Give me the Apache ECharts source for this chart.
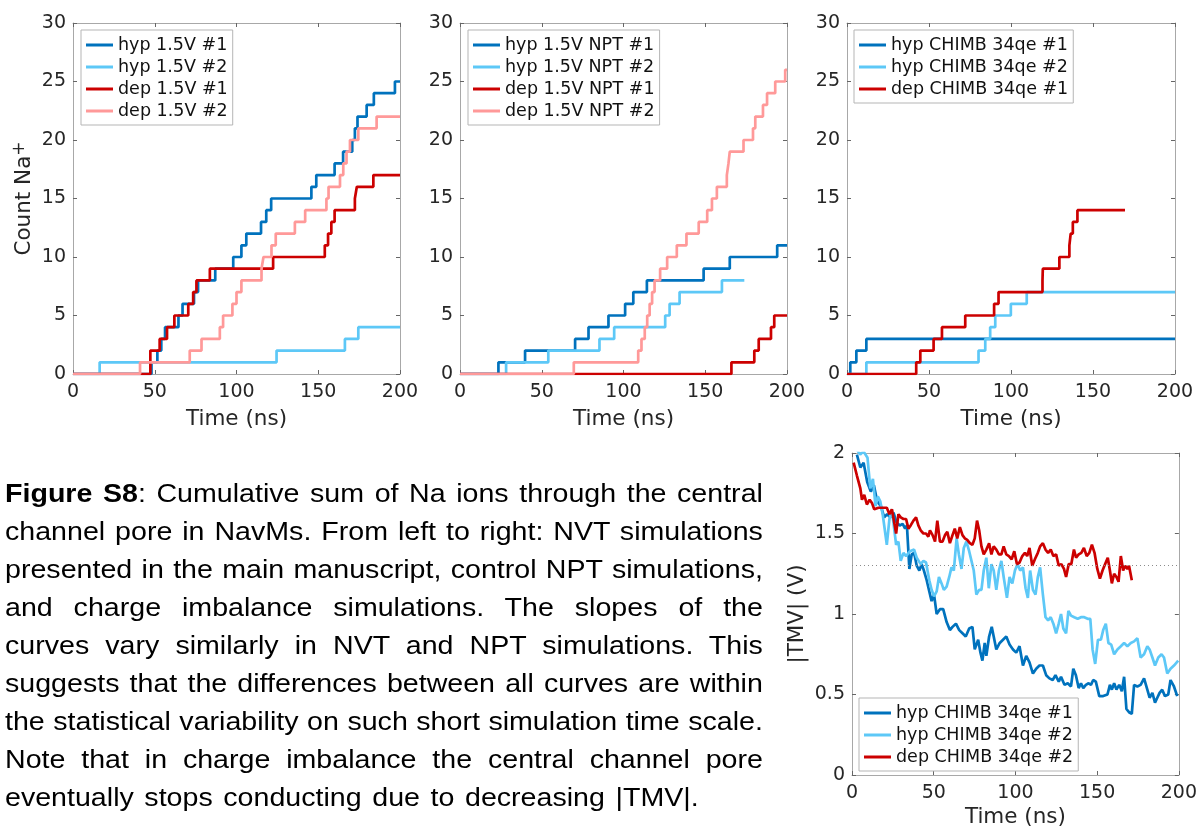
<!DOCTYPE html>
<html><head><meta charset="utf-8">
<script src="https://cdn.jsdelivr.net/npm/echarts@6/dist/echarts.min.js"></script>
<style>
html,body{margin:0;padding:0;background:#fff;}
#wrap{position:relative;width:1200px;height:829px;overflow:hidden;background:#fff;}
#chart{position:absolute;left:0;top:0;width:1200px;height:829px;}
#caption{position:absolute;left:5px;top:474px;width:689px;font-family:'Liberation Sans',Arial,sans-serif;font-size:26px;line-height:38px;color:#000;transform:scaleX(1.1);transform-origin:0 0;}
#caption div{text-align:justify;text-align-last:justify;white-space:nowrap;}
#caption div.last{text-align:left;text-align-last:left;word-spacing:2.4px;}
</style></head>
<body><div id="wrap"><div id="chart"></div>
<div id="caption">
<div><b>Figure S8</b>: Cumulative sum of Na ions through the central</div>
<div>channel pore in NavMs. From left to right: NVT simulations</div>
<div>presented in the main manuscript, control NPT simulations,</div>
<div>and charge imbalance simulations. The slopes of the</div>
<div>curves vary similarly in NVT and NPT simulations. This</div>
<div>suggests that the differences between all curves are within</div>
<div>the statistical variability on such short simulation time scale.</div>
<div>Note that in charge imbalance the central channel pore</div>
<div class="last">eventually stops conducting due to decreasing |TMV|.</div>
</div></div>
<script>
// ---- axis ranges [min, max, interval]
const timeAxis = [0, 200, 50];
const countAxis = [0, 30, 5];
const tmvAxis = [0, 2, 0.5];
const tmvRef = 1.3;

// ---- Panel 1: NVT (time ns, cumulative count)
const nvtHyp1 = [[0,0],[48,1],[51.6,2],[54,3],[56.3,4],[64.5,5],[67,6],[74,7],[76.5,8],[87,9],[98,10],[103,11],[106,12],[115,13],[118.2,14],[121.2,15],[145.8,16],[148.8,17],[160,18],[165.2,19],[170.8,20],[172.4,21],[174,22],[179.6,23],[184,24],[196.9,25],[200,25]];
const nvtHyp2 = [[0,0],[16.3,1],[124.5,2],[166.3,3],[174.5,4],[200,4]];
const nvtDep1 = [[0,0],[47.3,2],[53,3],[57.5,4],[62,5],[70.5,6],[73.5,7],[75.5,8],[83.7,9],[122.4,10],[154,11],[156,12],[158,13],[160,14],[172.4,15],[173.6,16],[183.7,17],[200,17]];
const nvtDep2 = [[0,0],[41,1],[71.4,2],[78.6,3],[89.8,4],[91.8,5],[97.5,6],[100,7],[103,8],[115.3,9],[116.5,10],[121.4,11],[124,12],[135.7,13],[142,14],[155,15],[156.3,16],[163.3,17],[165.3,18],[167.3,19],[169.4,20],[174.5,21],[185.7,22],[200,22]];

// ---- Panel 2: NPT
const nptHyp1 = [[0,0],[23.5,1],[39.8,2],[70.4,3],[78.6,4],[90.8,5],[101,6],[106,7],[114.3,8],[149,9],[165,10],[194,11],[200,11]];
const nptHyp2 = [[0,0],[28.2,1],[54,2],[85.3,3],[94.3,4],[125.5,5],[128.2,6],[134.3,7],[160.2,8],[173.9,8]];
const nptDep1 = [[0,0],[166,1],[180,2],[182.7,3],[190.2,4],[192.2,5],[200,5]];
const nptDep2 = [[0,0],[69.6,1],[109,2],[111,3],[113,4],[114.5,5],[116,6],[117.5,7],[119,8],[122.4,9],[126.7,10],[132.6,11],[138.5,12],[146,13],[151.2,14],[154.1,15],[157.1,16],[163.2,17],[164.2,18],[165,19],[173.4,20],[179.2,21],[180.6,22],[185.3,23],[187.8,24],[192.8,25],[198.9,26],[200,26]];

// ---- Panel 3: charge imbalance
const chHyp1 = [[0,0],[2,1],[5.7,2],[11.8,3],[200,3]];
const chHyp2 = [[0,0],[11.8,1],[80.2,2],[84.3,3],[87.3,4],[90.4,5],[99.9,6],[109.6,7],[200,7]];
const chDep1 = [[0,0],[42.2,1],[44.7,2],[52.8,3],[57.9,4],[72.1,5],[89.7,6],[92.4,7],[119.2,8],[119.4,9],[129.5,10],[135.6,11],[136.4,12],[137.7,13],[140.5,14],[169.5,14]];

// ---- Panel 4: |TMV| (V)
const tmvHyp1 = [[3,1.99],[5.1,1.91],[7.1,1.94],[9.3,1.82],[11.5,1.76],[13.4,1.8],[15.4,1.7],[17.7,1.67],[19.7,1.6],[21.5,1.62],[23.4,1.6],[25.4,1.63],[27.2,1.57],[29.2,1.55],[31,1.56],[32.5,1.53],[33.6,1.55],[35.1,1.28],[36.5,1.37],[38,1.38],[39.6,1.3],[41.2,1.27],[42.6,1.31],[44,1.27],[45.7,1.21],[47.3,1.14],[48.7,1.08],[50.2,1.12],[51.8,1.0],[53.8,1.03],[55.8,1.03],[57.9,0.95],[59.9,0.9],[61.5,0.92],[63.6,0.94],[65.6,0.9],[67.6,0.88],[69.6,0.86],[71.7,0.91],[73.7,0.92],[75.1,0.78],[77.2,0.84],[78.6,0.76],[79.8,0.71],[81.2,0.82],[82.2,0.74],[83.9,0.86],[85.5,0.92],[86.7,0.86],[88.3,0.78],[90.4,0.82],[92.4,0.84],[94.4,0.86],[96.4,0.81],[98.5,0.78],[100.5,0.76],[102.5,0.8],[104.6,0.68],[106.6,0.74],[108.6,0.7],[110.7,0.63],[112.7,0.66],[114.7,0.68],[116.8,0.68],[118.8,0.62],[120.8,0.6],[122.8,0.59],[124.5,0.62],[126.5,0.58],[127.9,0.61],[130,0.56],[132,0.57],[134,0.55],[135.4,0.66],[137,0.62],[138.7,0.54],[140.1,0.57],[141.5,0.54],[143.1,0.56],[144.8,0.57],[146.2,0.56],[147.6,0.59],[149.2,0.58],[151.3,0.49],[153.7,0.49],[156.3,0.5],[157.8,0.56],[159,0.53],[160.4,0.57],[161.8,0.53],[163.5,0.56],[165.1,0.52],[166.5,0.61],[167.9,0.41],[169.5,0.39],[171.2,0.38],[172.6,0.56],[174.6,0.55],[176.6,0.56],[178.7,0.6],[180.7,0.53],[182.1,0.48],[183.8,0.51],[185.4,0.45],[186.8,0.48],[188.2,0.51],[189.8,0.53],[191.5,0.49],[193.5,0.5],[194.9,0.59],[197,0.55],[199,0.49]];
const tmvHyp2 = [[3,2.02],[5,1.99],[7,2.01],[9.5,1.97],[11.2,1.78],[12.8,1.84],[14.4,1.67],[15.8,1.73],[17.3,1.7],[18.9,1.61],[21.3,1.43],[22.9,1.59],[24.4,1.65],[25.8,1.53],[27,1.43],[28.4,1.45],[29.8,1.33],[31.5,1.38],[33.1,1.36],[35.5,1.39],[38,1.4],[39.6,1.35],[42,1.31],[43.7,1.33],[45.3,1.32],[47.3,1.21],[48.7,1.15],[50.2,1.11],[51.8,1.14],[53.2,1.23],[54.8,1.19],[56.2,1.15],[57.9,1.17],[59.5,1.23],[60.9,1.29],[62.3,1.27],[64,1.47],[65.4,1.37],[67,1.28],[68.4,1.41],[70,1.45],[71.7,1.39],[73.1,1.33],[74.5,1.27],[76.1,1.12],[77.8,1.15],[79.2,1.15],[80.6,1.27],[82.2,1.35],[83.7,1.16],[85.3,1.31],[86.7,1.27],[88.3,1.15],[89.9,1.27],[91.4,1.33],[92.8,1.23],[94.8,1.1],[96.4,1.23],[98.1,1.19],[99.7,1.27],[101.3,1.31],[102.9,1.27],[104.6,1.29],[106.2,1.16],[107.6,1.1],[109,1.27],[110.7,1.15],[112.3,1.12],[113.7,1.23],[115.1,1.29],[116.8,1.12],[118.4,0.98],[120,0.96],[121.6,0.98],[123.2,0.94],[124.9,0.88],[126.5,0.94],[127.9,1.0],[129.3,0.91],[131,0.88],[132.4,1.02],[134,0.99],[136,0.98],[138.1,0.97],[140.1,0.98],[142.1,0.98],[144.2,0.97],[145.8,0.97],[147.2,0.78],[148.8,0.69],[150.5,0.84],[152.3,0.84],[153.7,0.9],[155.3,0.94],[156.9,0.82],[158.6,0.81],[160.4,0.75],[162.4,0.78],[164.5,0.8],[166.5,0.82],[168.5,0.8],[170.6,0.82],[172.6,0.83],[174.6,0.85],[176.6,0.73],[178.7,0.75],[180.7,0.8],[182.1,0.78],[183.8,0.73],[185.4,0.68],[187.4,0.73],[189.4,0.75],[190.9,0.73],[192.9,0.63],[194.9,0.66],[197,0.68],[199.6,0.71]];
const tmvDep2 = [[1,1.94],[3,1.86],[5.1,1.78],[6.1,1.71],[7.5,1.74],[9.1,1.68],[10.8,1.71],[12.2,1.69],[13.6,1.65],[16.2,1.66],[19.3,1.66],[21.3,1.66],[22.9,1.62],[24.4,1.65],[25.8,1.57],[27,1.5],[28.4,1.62],[29.8,1.6],[31.5,1.59],[33.1,1.59],[34.5,1.53],[35.9,1.55],[37.6,1.58],[39.2,1.6],[40.6,1.55],[42,1.52],[43.7,1.5],[45.3,1.5],[46.7,1.48],[47.7,1.52],[49.3,1.49],[50.8,1.45],[52.2,1.58],[53.8,1.45],[55.4,1.45],[56.9,1.49],[58.3,1.51],[59.9,1.44],[61.5,1.49],[62.9,1.53],[64.4,1.47],[66,1.54],[67.6,1.49],[69,1.47],[70.5,1.46],[72.1,1.44],[73.7,1.43],[75.1,1.47],[76.5,1.58],[77.8,1.52],[79.2,1.42],[80.6,1.37],[82.2,1.4],[83.9,1.44],[85.3,1.37],[86.7,1.42],[88.3,1.4],[89.9,1.37],[91.4,1.37],[92.8,1.42],[94.4,1.37],[96,1.36],[97.7,1.34],[99.3,1.39],[100.9,1.31],[102.5,1.32],[104.2,1.36],[105.8,1.38],[107.2,1.36],[108.6,1.41],[110.3,1.3],[111.9,1.34],[113.7,1.38],[115.1,1.42],[116.8,1.44],[118.4,1.4],[120,1.38],[121.6,1.4],[123.2,1.36],[124.9,1.37],[126.5,1.3],[128.1,1.31],[129.7,1.28],[131,1.23],[132.6,1.31],[134.2,1.31],[135.8,1.4],[137.1,1.35],[138.7,1.37],[140.3,1.38],[141.9,1.41],[143.6,1.36],[145.2,1.38],[146.8,1.43],[148.4,1.38],[150.1,1.28],[151.7,1.22],[153.3,1.27],[154.9,1.31],[156.5,1.35],[157.8,1.27],[159,1.19],[160.4,1.25],[161.8,1.23],[163.1,1.2],[164.5,1.36],[165.9,1.27],[167.1,1.3],[168.5,1.28],[169.5,1.3],[171.2,1.21]];

const names1 = ['hyp 1.5V #1','hyp 1.5V #2','dep 1.5V #1','dep 1.5V #2'];
const names2 = ['hyp 1.5V NPT #1','hyp 1.5V NPT #2','dep 1.5V NPT #1','dep 1.5V NPT #2'];
const names3 = ['hyp CHIMB 34qe #1','hyp CHIMB 34qe #2','dep CHIMB 34qe #1'];
const names4 = ['hyp CHIMB 34qe #1','hyp CHIMB 34qe #2','dep CHIMB 34qe #2'];

const C_HYP1 = '#0072BD', C_HYP2 = '#5DC8F7', C_DEP1 = '#CC0000', C_DEP2 = '#FF9999';
const FONT = 'DejaVu Sans';
const TXT = '#262626';
const AX = '#A8A8A8';

const grids = [
  {left:73, top:23, width:327, height:351},
  {left:460, top:23, width:327, height:351},
  {left:847, top:23, width:328, height:351},
  {left:852, top:453, width:328, height:328}
];

const xAxis = [], yAxis = [];
function addAxes(gi, xr, yr, xName, xGap, yName, yGap) {
  const base = {
    axisLine:{show:true, onZero:false, lineStyle:{color:AX, width:1}},
    axisTick:{show:true, inside:true, length:4, lineStyle:{color:'#666'}},
    splitLine:{show:false}
  };
  xAxis.push(Object.assign({}, base, {
    type:'value', gridIndex:gi, position:'bottom', min:xr[0], max:xr[1], interval:xr[2],
    axisLabel:{color:TXT, fontSize:19, fontFamily:FONT, margin:9},
    name:xName, nameLocation:'middle', nameGap:xGap,
    nameTextStyle:{color:TXT, fontSize:21.5, fontFamily:FONT}
  }));
  xAxis.push(Object.assign({}, base, {
    type:'value', gridIndex:gi, position:'top', min:xr[0], max:xr[1], interval:xr[2],
    axisLabel:{show:false}
  }));
  const yl = Object.assign({}, base, {
    type:'value', gridIndex:gi, position:'left', min:yr[0], max:yr[1], interval:yr[2],
    axisLabel:{color:TXT, fontSize:19, fontFamily:FONT, margin:7}
  });
  if (yName) {
    yl.name = yName; yl.nameLocation = 'middle'; yl.nameGap = yGap;
    yl.nameTextStyle = {color:TXT, fontSize:21.5, fontFamily:FONT, lineHeight:26,
      rich:{s:{fontSize:17, fontFamily:FONT, color:TXT, verticalAlign:'top', lineHeight:14}}};
  }
  yAxis.push(yl);
  yAxis.push(Object.assign({}, base, {
    type:'value', gridIndex:gi, position:'right', min:yr[0], max:yr[1], interval:yr[2],
    axisLabel:{show:false}
  }));
}
addAxes(0, timeAxis, countAxis, 'Time (ns)', 34, 'Count Na{s|+}', 36);
addAxes(1, timeAxis, countAxis, 'Time (ns)', 34, null);
addAxes(2, timeAxis, countAxis, 'Time (ns)', 34, null);
addAxes(3, timeAxis, tmvAxis, 'Time (ns)', 31, '|TMV| (V)', 39);

const series = [];
function addLine(gi, name, data, color, step) {
  series.push({
    type:'line', name:name, data:data, xAxisIndex:gi*2, yAxisIndex:gi*2,
    step: step ? 'end' : false, symbol:'none', showSymbol:false, color:color,
    lineStyle:{color:color, width:2.7}, clip:true, animation:false
  });
}
addLine(0, names1[0], nvtHyp1, C_HYP1, true);
addLine(0, names1[1], nvtHyp2, C_HYP2, true);
addLine(0, names1[2], nvtDep1, C_DEP1, true);
addLine(0, names1[3], nvtDep2, C_DEP2, true);
addLine(1, names2[0], nptHyp1, C_HYP1, true);
addLine(1, names2[1], nptHyp2, C_HYP2, true);
addLine(1, names2[2], nptDep1, C_DEP1, true);
addLine(1, names2[3], nptDep2, C_DEP2, true);
addLine(2, names3[0], chHyp1, C_HYP1, true);
addLine(2, names3[1], chHyp2, C_HYP2, true);
addLine(2, names3[2], chDep1, C_DEP1, true);
addLine(3, names4[0], tmvHyp1, C_HYP1, false);
addLine(3, names4[1], tmvHyp2, C_HYP2, false);
addLine(3, names4[2], tmvDep2, C_DEP1, false);
series[11].markLine = {silent:true, symbol:'none', label:{show:false}, animation:false,
  lineStyle:{type:[1,3], color:'#8c8c8c', width:1}, data:[{yAxis:tmvRef}]};
series[11].z = 1;

function legend(names, left, top) {
  return {
    data:names, orient:'vertical', left:left, top:top, icon:'rect',
    itemWidth:27, itemHeight:3, itemGap:4, padding:[6,5,5,5],
    backgroundColor:'#fff', borderColor:'#B5B5B5', borderWidth:1, borderRadius:0,
    selectedMode:false,
    textStyle:{color:'#111', fontSize:17.5, fontFamily:FONT}
  };
}

const chart = echarts.init(document.getElementById('chart'), null, {renderer:'canvas'});
chart.setOption({
  backgroundColor:'#fff',
  animation:false,
  grid:grids,
  xAxis:xAxis,
  yAxis:yAxis,
  legend:[legend(names1,81,30), legend(names2,468,30), legend(names3,854,30), legend(names4,859,698)],
  series:series
});
</script>
</body></html>
